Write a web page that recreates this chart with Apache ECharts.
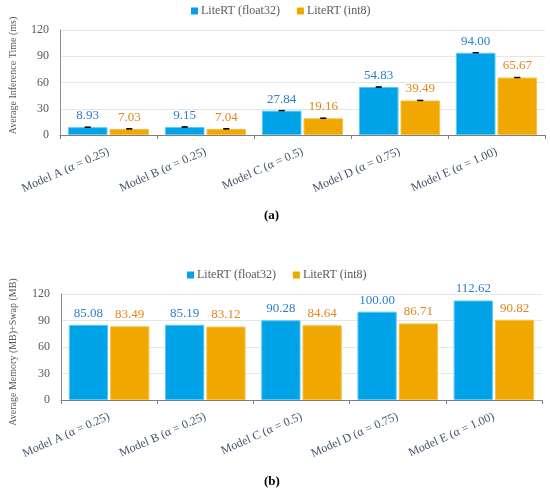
<!DOCTYPE html>
<html>
<head>
<meta charset="utf-8">
<script src="https://cdn.jsdelivr.net/npm/echarts@6/dist/echarts.min.js"></script>
<style>
  html, body { margin: 0; padding: 0; background: #fff; }
  #chart { width: 550px; height: 493px; }
</style>
</head>
<body>
<div id="chart"></div>
<script>
// categories + values
var models = ['Model A (α = 0.25)', 'Model B (α = 0.25)', 'Model C (α = 0.5)', 'Model D (α = 0.75)', 'Model E (α = 1.00)'];
var seriesNames = ['LiteRT (float32)', 'LiteRT (int8)'];

var timeFloat32 = [8.93, 9.15, 27.84, 54.83, 94.00];
var timeInt8 = [7.03, 7.04, 19.16, 39.49, 65.67];
// error bars are tiny, just a cap on top of each bar
var timeErrFloat32 = [0.3, 0.3, 0.3, 0.3, 0.3];
var timeErrInt8 = [0.3, 0.3, 0.3, 0.3, 0.3];

var memFloat32 = [85.08, 85.19, 90.28, 100.00, 112.62];
var memInt8 = [83.49, 83.12, 84.64, 86.71, 90.82];

var yTicks = [0, 30, 60, 90, 120];

var FONT = 'Liberation Serif';
var BLUE = '#00a2e8', ORANGE = '#f0a800';
var BLUE_TXT = '#2a7fd4', ORANGE_TXT = '#e0861a';
var CAT_GAP = 0.163, BAR_GAP = 0.05;

function barSeries(name, data, axisIdx, color, border, txt) {
    return {
        name: name,
        type: 'bar',
        xAxisIndex: axisIdx,
        yAxisIndex: axisIdx,
        data: data,
        barGap: (BAR_GAP * 100) + '%',
        barCategoryGap: (CAT_GAP * 100) + '%',
        itemStyle: { color: color, borderColor: border, borderWidth: 1 },
        label: {
            show: true, position: 'top', distance: 5,
            formatter: function (p) { return p.value.toFixed(2); },
            color: txt, fontFamily: FONT, fontSize: 13
        }
    };
}

// custom series for the little error caps
function errData(vals, errs, idx) {
    var out = [];
    for (var i = 0; i < vals.length; i++) {
        out.push([i, vals[i], errs[i], idx]);
    }
    return out;
}

function renderErr(params, api) {
    var cat = api.value(0), v = api.value(1), e = api.value(2), idx = api.value(3);
    var catW = api.size([1, 0])[0];
    var barW = catW * (1 - CAT_GAP) / (2 + BAR_GAP);
    var off = (idx === 0 ? -1 : 1) * barW * (1 + BAR_GAP) / 2;
    var hi = api.coord([cat, v + e]);
    var lo = api.coord([cat, v - e]);
    var x = hi[0] + off, cw = 3;
    var st = { stroke: '#000', lineWidth: 1 };
    return {
        type: 'group',
        children: [
            { type: 'line', shape: { x1: x, y1: hi[1], x2: x, y2: lo[1] }, style: st },
            { type: 'line', shape: { x1: x - cw, y1: hi[1], x2: x + cw, y2: hi[1] }, style: st },
            { type: 'line', shape: { x1: x - cw, y1: lo[1], x2: x + cw, y2: lo[1] }, style: st }
        ]
    };
}

function xAxis(idx) {
    return {
        type: 'category', gridIndex: idx, data: models,
        axisLine: { lineStyle: { color: '#7f7f7f', width: 1 } },
        axisTick: { show: true, length: 4, lineStyle: { color: '#7f7f7f' } },
        axisLabel: { rotate: 24, margin: 16, color: '#44546a', fontFamily: FONT, fontSize: 12, interval: 0 }
    };
}

function yAxis(idx, name, gap, pad) {
    return {
        type: 'value', gridIndex: idx, min: yTicks[0], max: yTicks[yTicks.length - 1], interval: 30,
        name: name, nameLocation: 'middle', nameGap: gap, nameRotate: 90,
        nameTextStyle: { color: '#595959', fontFamily: FONT, fontSize: 10, padding: pad },
        axisLine: { show: true, lineStyle: { color: '#8c8c8c' } },
        axisTick: { show: false },
        axisLabel: { color: '#595959', fontFamily: FONT, fontSize: 12, margin: 11 },
        splitLine: { lineStyle: { color: '#e6e6e6' } }
    };
}

function legend(top, left) {
    return {
        data: seriesNames, top: top, left: left, itemWidth: 7, itemHeight: 7, itemGap: 17, icon: 'rect',
        itemStyle: { borderWidth: 0 },
        textStyle: { color: '#595959', fontFamily: FONT, fontSize: 12, padding: [0, 0, 0, -2] }
    };
}

var chart = echarts.init(document.getElementById('chart'));
chart.setOption({
    animation: false,
    textStyle: { fontFamily: FONT },
    legend: [legend(0, 186), legend(264, 182)],
    grid: [
        { left: 55, right: 5, top: 30, height: 105 },
        { left: 51, right: 8, top: 294, height: 106 }
    ],
    xAxis: [xAxis(0), xAxis(1)],
    yAxis: [
        yAxis(0, 'Average Inference Time (ms)', 42, [0, 0, 0, 14]),
        yAxis(1, 'Average Memory (MB)+Swap (MB)', 43, [0, 10, 0, 0])
    ],
    series: [
        barSeries(seriesNames[0], timeFloat32, 0, BLUE, '#5ccaf5', BLUE_TXT),
        barSeries(seriesNames[1], timeInt8, 0, ORANGE, '#f6c24e', ORANGE_TXT),
        { type: 'custom', xAxisIndex: 0, yAxisIndex: 0, renderItem: renderErr, z: 5, silent: true,
          data: errData(timeFloat32, timeErrFloat32, 0) },
        { type: 'custom', xAxisIndex: 0, yAxisIndex: 0, renderItem: renderErr, z: 5, silent: true,
          data: errData(timeInt8, timeErrInt8, 1) },
        barSeries(seriesNames[0], memFloat32, 1, BLUE, '#5ccaf5', BLUE_TXT),
        barSeries(seriesNames[1], memInt8, 1, ORANGE, '#f6c24e', ORANGE_TXT)
    ],
    graphic: [
        { type: 'text', left: 264, top: 209, style: { text: '(a)', font: 'bold 13px "Liberation Serif"', fill: '#000' } },
        { type: 'text', left: 264, top: 475, style: { text: '(b)', font: 'bold 13px "Liberation Serif"', fill: '#000' } }
    ]
});
</script>
</body>
</html>
